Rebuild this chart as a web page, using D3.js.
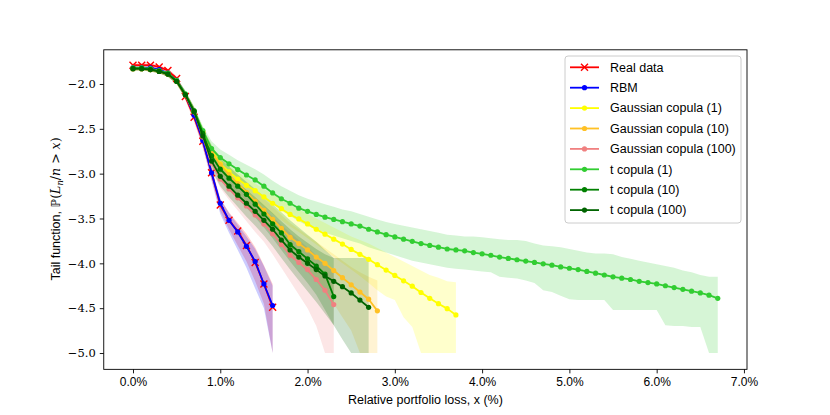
<!DOCTYPE html>
<html>
<head>
<meta charset="utf-8">
<script src="https://cdn.jsdelivr.net/npm/d3@7"></script>
<style>
body { margin: 0; background: #fff; }
text { font-family: "Liberation Sans", sans-serif; }
</style>
</head>
<body>
<svg id="chart" width="830" height="415"></svg>
<script>
// loss levels, in percent of the portfolio
const lossPct = [0.0,0.1,0.2,0.3,0.4,0.5,0.6,0.7,0.8,0.9,1.0,1.1,1.2,1.3,1.4,1.5,1.6,1.7,1.8,1.9,
                 2.0,2.1,2.2,2.3,2.4,2.5,2.6,2.7,2.8,2.9,3.0,3.1,3.2,3.3,3.4,3.5,3.6,3.7,3.8,3.9,
                 4.0,4.1,4.2,4.3,4.4,4.5,4.6,4.7,4.8,4.9,5.0,5.1,5.2,5.3,5.4,5.5,5.6,5.7,5.8,5.9,
                 6.0,6.1,6.2,6.3,6.4,6.5,6.6,6.7];

// log10 tail values (mean, lower and upper band)
const realData = [-1.79,-1.79,-1.79,-1.81,-1.85,-1.94,-2.14,-2.37,-2.64,-2.99,-3.35,-3.52,-3.64,-3.80,-3.99,-4.23,-4.49];
const realLo   = [-1.81,-1.81,-1.81,-1.83,-1.88,-1.97,-2.18,-2.42,-2.71,-3.06,-3.42,-3.62,-3.80,-3.98,-4.20,-4.45,-5.00];
const realHi   = [-1.77,-1.77,-1.77,-1.79,-1.83,-1.91,-2.10,-2.32,-2.58,-2.93,-3.28,-3.43,-3.55,-3.67,-3.82,-4.02,-4.23];

const rbm   = [-1.82,-1.82,-1.82,-1.84,-1.88,-1.96,-2.12,-2.35,-2.63,-2.99,-3.33,-3.52,-3.65,-3.81,-3.98,-4.23,-4.47];
const rbmLo = [-1.84,-1.84,-1.84,-1.86,-1.91,-1.99,-2.16,-2.40,-2.70,-3.08,-3.45,-3.66,-3.85,-4.05,-4.28,-4.50,-5.00];
const rbmHi = [-1.80,-1.80,-1.80,-1.82,-1.86,-1.93,-2.08,-2.30,-2.57,-2.94,-3.28,-3.44,-3.57,-3.70,-3.84,-4.03,-4.25];

const gauss1 = [-1.83,-1.83,-1.84,-1.86,-1.89,-1.97,-2.12,-2.31,-2.53,-2.74,-2.89,-2.98,-3.06,-3.13,-3.19,-3.26,-3.33,-3.39,
                -3.455,-3.505,-3.56,-3.62,-3.675,-3.73,-3.785,-3.845,-3.90,-3.955,-4.015,-4.075,-4.135,-4.195,-4.255,-4.325,
                -4.39,-4.45,-4.505,-4.575];
const gauss1Lo = [-1.85,-1.85,-1.86,-1.88,-1.92,-2.00,-2.16,-2.36,-2.58,-2.80,-2.97,-3.07,-3.15,-3.23,-3.30,-3.37,-3.45,-3.52,
                  -3.59,-3.65,-3.72,-3.79,-3.86,-3.93,-4.00,-4.07,-4.14,-4.22,-4.30,-4.37,-4.41,-4.60,-4.71,-5.00,
                  -5.00,-5.00,-5.00,-5.00];
const gauss1Hi = [-1.81,-1.81,-1.82,-1.84,-1.87,-1.94,-2.08,-2.26,-2.49,-2.68,-2.83,-2.91,-2.98,-3.05,-3.11,-3.17,-3.23,-3.29,
                  -3.35,-3.40,-3.45,-3.50,-3.55,-3.60,-3.65,-3.70,-3.74,-3.78,-3.83,-3.88,-3.93,-3.98,-4.03,-4.08,
                  -4.13,-4.16,-4.20,-4.21];

const gauss10 = [-1.83,-1.83,-1.84,-1.86,-1.89,-1.97,-2.12,-2.31,-2.54,-2.76,-2.90,-3.01,-3.11,-3.21,-3.31,-3.41,-3.51,-3.61,
                 -3.71,-3.78,-3.85,-3.93,-4.00,-4.08,-4.16,-4.24,-4.32,-4.40,-4.53];
const gauss10Lo = [-1.85,-1.85,-1.86,-1.88,-1.92,-2.00,-2.16,-2.36,-2.60,-2.85,-3.00,-3.11,-3.22,-3.33,-3.44,-3.55,-3.66,-3.78,
                   -3.90,-4.00,-4.10,-4.20,-4.32,-4.45,-4.60,-4.75,-5.00,-5.00,-5.00];
const gauss10Hi = [-1.81,-1.81,-1.82,-1.84,-1.87,-1.94,-2.08,-2.26,-2.49,-2.70,-2.82,-2.92,-3.01,-3.10,-3.19,-3.28,-3.37,-3.46,
                   -3.55,-3.62,-3.69,-3.76,-3.83,-3.90,-3.97,-4.04,-4.10,-4.15,-4.19];

const gauss100 = [-1.83,-1.83,-1.84,-1.86,-1.89,-1.97,-2.12,-2.31,-2.59,-2.88,-3.06,-3.17,-3.27,-3.36,-3.46,-3.56,-3.67,-3.79,
                  -3.91,-3.99,-4.07,-4.18,-4.30,-4.46];
const gauss100Lo = [-1.85,-1.85,-1.86,-1.88,-1.92,-2.00,-2.16,-2.36,-2.65,-2.96,-3.16,-3.29,-3.41,-3.53,-3.65,-3.76,-3.90,-4.05,
                    -4.20,-4.35,-4.50,-4.70,-5.00,-5.00];
const gauss100Hi = [-1.81,-1.81,-1.82,-1.84,-1.87,-1.94,-2.08,-2.26,-2.52,-2.79,-2.96,-3.06,-3.15,-3.23,-3.31,-3.39,-3.48,-3.57,
                    -3.66,-3.74,-3.82,-3.91,-4.00,-4.10];

const tCop1 = [-1.82,-1.82,-1.83,-1.85,-1.88,-1.96,-2.11,-2.30,-2.52,-2.72,-2.82,-2.89,-2.955,-3.015,-3.07,-3.14,-3.215,-3.28,
               -3.33,-3.385,-3.42,-3.455,-3.485,-3.51,-3.535,-3.56,-3.585,-3.62,-3.65,-3.68,-3.705,-3.73,-3.755,-3.78,
               -3.80,-3.82,-3.84,-3.85,-3.86,-3.88,-3.895,-3.91,-3.93,-3.945,-3.96,-3.975,-3.99,-4.005,-4.02,-4.04,
               -4.055,-4.07,-4.09,-4.11,-4.13,-4.15,-4.165,-4.18,-4.20,-4.215,-4.23,-4.25,-4.27,-4.29,-4.31,-4.33,-4.355,-4.39];
const tCop1Lo = [-1.84,-1.84,-1.85,-1.87,-1.91,-1.99,-2.15,-2.35,-2.57,-2.79,-2.90,-2.98,-3.05,-3.12,-3.18,-3.25,-3.33,-3.41,
                 -3.47,-3.53,-3.58,-3.62,-3.66,-3.69,-3.72,-3.75,-3.78,-3.82,-3.85,-3.88,-3.91,-3.94,-3.97,-3.99,
                 -4.01,-4.03,-4.05,-4.06,-4.07,-4.08,-4.09,-4.10,-4.15,-4.16,-4.17,-4.19,-4.22,-4.30,-4.32,-4.36,
                 -4.40,-4.41,-4.41,-4.41,-4.41,-4.52,-4.52,-4.52,-4.52,-4.52,-4.52,-4.69,-4.70,-4.70,-4.71,-4.71,-5.00,-5.00];
const tCop1Hi = [-1.80,-1.80,-1.81,-1.83,-1.86,-1.93,-2.07,-2.25,-2.47,-2.64,-2.73,-2.79,-2.85,-2.90,-2.95,-3.01,-3.08,-3.14,
                 -3.19,-3.24,-3.28,-3.31,-3.34,-3.37,-3.40,-3.42,-3.45,-3.48,-3.51,-3.54,-3.56,-3.58,-3.60,-3.62,
                 -3.64,-3.66,-3.68,-3.69,-3.70,-3.70,-3.71,-3.72,-3.73,-3.74,-3.74,-3.75,-3.78,-3.80,-3.81,-3.82,
                 -3.84,-3.86,-3.88,-3.89,-3.89,-3.90,-3.93,-3.95,-3.97,-3.99,-4.01,-4.03,-4.05,-4.08,-4.10,-4.13,-4.15,-4.15];

const tCop10 = [-1.83,-1.83,-1.84,-1.86,-1.89,-1.97,-2.12,-2.30,-2.55,-2.80,-2.95,-3.05,-3.14,-3.23,-3.34,-3.45,-3.56,-3.66,
                -3.79,-3.87,-3.95,-4.03,-4.12,-4.37];
const tCop10Lo = [-1.85,-1.85,-1.86,-1.88,-1.92,-2.00,-2.16,-2.35,-2.62,-2.90,-3.07,-3.18,-3.28,-3.38,-3.49,-3.60,-3.72,-3.85,
                  -3.98,-4.10,-4.22,-4.35,-4.52,-4.69];
const tCop10Hi = [-1.81,-1.81,-1.82,-1.84,-1.87,-1.94,-2.08,-2.26,-2.49,-2.68,-2.83,-2.92,-3.01,-3.09,-3.17,-3.25,-3.34,-3.43,
                  -3.52,-3.60,-3.68,-3.76,-3.85,-3.94];

const tCop100 = [-1.83,-1.83,-1.84,-1.86,-1.89,-1.97,-2.12,-2.31,-2.58,-2.86,-3.03,-3.14,-3.24,-3.33,-3.42,-3.52,-3.62,-3.74,
                 -3.85,-3.93,-4.00,-4.07,-4.14,-4.20,-4.26,-4.33,-4.41,-4.49];
const tCop100Lo = [-1.85,-1.85,-1.86,-1.88,-1.92,-2.00,-2.16,-2.36,-2.66,-2.96,-3.14,-3.26,-3.37,-3.48,-3.58,-3.69,-3.81,-3.94,
                   -4.07,-4.19,-4.31,-4.43,-4.56,-4.69,-4.85,-5.00,-5.00,-5.00];
const tCop100Hi = [-1.81,-1.81,-1.82,-1.84,-1.87,-1.94,-2.08,-2.26,-2.50,-2.74,-2.91,-3.01,-3.10,-3.18,-3.26,-3.35,-3.44,-3.53,
                   -3.62,-3.70,-3.77,-3.84,-3.90,-3.94,-3.94,-3.94,-3.94,-3.94];

const seriesNames = ["Real data", "RBM", "Gaussian copula (1)", "Gaussian copula (10)", "Gaussian copula (100)",
                     "t copula (1)", "t copula (10)", "t copula (100)"];
const seriesColors = ["#ff0000", "#0000ff", "#ffff00", "#ffc125", "#f08080", "#32cd32", "#008000", "#006400"];
const xTicks = [0, 1, 2, 3, 4, 5, 6, 7];
const yTicks = [-5.0, -4.5, -4.0, -3.5, -3.0, -2.5, -2.0];

const series = [
    {mean: realData, lo: realLo, hi: realHi, marker: "x"},
    {mean: rbm, lo: rbmLo, hi: rbmHi, marker: "dot"},
    {mean: gauss1, lo: gauss1Lo, hi: gauss1Hi, marker: "dot"},
    {mean: gauss10, lo: gauss10Lo, hi: gauss10Hi, marker: "dot"},
    {mean: gauss100, lo: gauss100Lo, hi: gauss100Hi, marker: "dot"},
    {mean: tCop1, lo: tCop1Lo, hi: tCop1Hi, marker: "dot"},
    {mean: tCop10, lo: tCop10Lo, hi: tCop10Hi, marker: "dot"},
    {mean: tCop100, lo: tCop100Lo, hi: tCop100Hi, marker: "dot"}
].map(function (s, k) {
    s.name = seriesNames[k];
    s.color = seriesColors[k];
    s.points = s.mean.map(function (v, i) {
        return {x: lossPct[i], y: v, lo: s.lo[i], hi: s.hi[i]};
    });
    return s;
});

const plot = {left: 103.75, right: 747, top: 49.8, bottom: 369.35};

const x = d3.scaleLinear().domain([-0.335, 7.035]).range([plot.left, plot.right]);
const y = d3.scaleLinear().domain([-5.182, -1.619]).range([plot.bottom, plot.top]);

const svg = d3.select("#chart");

svg.append("defs").append("clipPath").attr("id", "clip")
    .append("rect")
    .attr("x", plot.left).attr("y", plot.top)
    .attr("width", plot.right - plot.left).attr("height", plot.bottom - plot.top);

const area = d3.area()
    .x(function (d) { return x(d.x); })
    .y0(function (d) { return y(d.lo); })
    .y1(function (d) { return y(d.hi); });

const line = d3.line()
    .x(function (d) { return x(d.x); })
    .y(function (d) { return y(d.y); });

const vis = svg.append("g").attr("clip-path", "url(#clip)");

// bands sit under every line, like fill_between in matplotlib
vis.selectAll(".band")
    .data(series)
    .enter()
    .append("path")
    .attr("class", "band")
    .attr("d", function (s) { return area(s.points); })
    .style("fill", function (s) { return s.color; })
    .style("fill-opacity", 0.2)
    .style("stroke", "none");

const crossPath = "M-3.5,-3.5L3.5,3.5M-3.5,3.5L3.5,-3.5";

series.forEach(function (s) {
    const g = vis.append("g");
    g.append("path")
        .attr("d", line(s.points))
        .style("fill", "none")
        .style("stroke", s.color)
        .style("stroke-width", 1.8)
        .style("stroke-linejoin", "round");
    if (s.marker === "x") {
        g.selectAll("path.mk")
            .data(s.points)
            .enter()
            .append("path")
            .attr("class", "mk")
            .attr("d", crossPath)
            .attr("transform", function (d) { return "translate(" + x(d.x) + "," + y(d.y) + ")"; })
            .style("stroke", s.color)
            .style("stroke-width", 1.4)
            .style("fill", "none");
    } else {
        g.selectAll("circle")
            .data(s.points)
            .enter()
            .append("circle")
            .attr("cx", function (d) { return x(d.x); })
            .attr("cy", function (d) { return y(d.y); })
            .attr("r", 2.6)
            .style("fill", s.color);
    }
});

// axes
const xAxis = svg.append("g")
    .attr("transform", "translate(0," + plot.bottom + ")")
    .call(d3.axisBottom(x).tickValues(xTicks).tickSize(4).tickPadding(4).tickSizeOuter(0)
        .tickFormat(function (d) { return d.toFixed(1) + "%"; }));

const yAxis = svg.append("g")
    .attr("transform", "translate(" + plot.left + ",0)")
    .call(d3.axisLeft(y).tickValues(yTicks).tickSize(4).tickPadding(4).tickSizeOuter(0)
        .tickFormat(function (d) { return "\u2212" + Math.abs(d).toFixed(1); }));

[xAxis, yAxis].forEach(function (a) {
    a.select(".domain").remove();
    a.selectAll(".tick line").style("stroke", "#000").style("stroke-width", 0.9);
});
xAxis.selectAll(".tick text").style("font-family", "'Liberation Sans', sans-serif").style("font-size", "12px").style("fill", "#000");
yAxis.selectAll(".tick text").style("font-family", "'DejaVu Serif', serif").style("font-size", "11.5px").style("fill", "#000");

svg.append("rect")
    .attr("x", plot.left).attr("y", plot.top)
    .attr("width", plot.right - plot.left).attr("height", plot.bottom - plot.top)
    .style("fill", "none").style("stroke", "#000").style("stroke-width", 0.9);

// axis labels
svg.append("text")
    .attr("x", (plot.left + plot.right) / 2)
    .attr("y", 404)
    .attr("text-anchor", "middle")
    .style("font-size", "12.5px")
    .text("Relative portfolio loss, x (%)");

const yl = svg.append("text")
    .attr("transform", "translate(60,209) rotate(-90)")
    .attr("text-anchor", "middle")
    .style("font-size", "12.5px");
yl.append("tspan").text("Tail function, ");
yl.append("tspan").style("font-family", "'DejaVu Sans', sans-serif").text("\u2119");
yl.append("tspan").style("font-family", "'DejaVu Serif', serif").text("(");
yl.append("tspan").style("font-family", "'DejaVu Serif', serif").style("font-style", "italic").text("L");
yl.append("tspan").style("font-family", "'DejaVu Serif', serif").style("font-style", "italic")
    .style("font-size", "8.5px").attr("dy", 3).text("n");
yl.append("tspan").style("font-family", "'DejaVu Serif', serif").attr("dy", -3).text("/");
yl.append("tspan").style("font-family", "'DejaVu Serif', serif").style("font-style", "italic").text("n");
yl.append("tspan").style("font-family", "'DejaVu Serif', serif").text(" > ");
yl.append("tspan").style("font-family", "'DejaVu Serif', serif").style("font-style", "italic").text("x");
yl.append("tspan").style("font-family", "'DejaVu Serif', serif").text(")");

// legend
const legend = svg.append("g");
legend.append("rect")
    .attr("x", 565).attr("y", 56).attr("width", 176).attr("height", 167).attr("rx", 3)
    .style("fill", "#fff").style("fill-opacity", 0.8)
    .style("stroke", "#cccccc").style("stroke-width", 1);

series.forEach(function (s, k) {
    const ly = 67.3 + k * 20.4;
    const row = legend.append("g");
    row.append("line")
        .attr("x1", 570).attr("x2", 599).attr("y1", ly).attr("y2", ly)
        .style("stroke", s.color).style("stroke-width", 1.8);
    if (s.marker === "x") {
        row.append("path").attr("d", crossPath)
            .attr("transform", "translate(584.5," + ly + ")")
            .style("stroke", s.color).style("stroke-width", 1.4).style("fill", "none");
    } else {
        row.append("circle").attr("cx", 584.5).attr("cy", ly).attr("r", 2.6).style("fill", s.color);
    }
    row.append("text")
        .attr("x", 610).attr("y", ly + 4.3)
        .style("font-size", "12.5px")
        .text(s.name);
});
</script>
</body>
</html>
